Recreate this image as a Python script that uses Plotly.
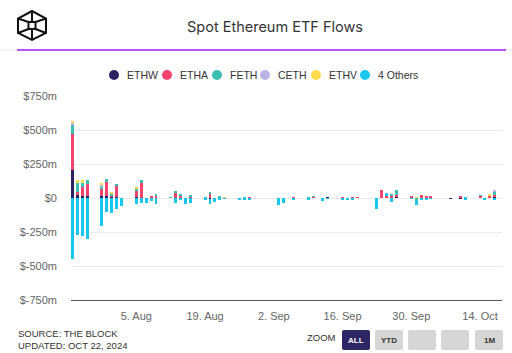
import plotly.graph_objects as go

dates = ["2024-07-23", "2024-07-24", "2024-07-25", "2024-07-26", "2024-07-29", "2024-07-30", "2024-07-31",
         "2024-08-01", "2024-08-02", "2024-08-05", "2024-08-06", "2024-08-07", "2024-08-08", "2024-08-09",
         "2024-08-12", "2024-08-13", "2024-08-14", "2024-08-15", "2024-08-16", "2024-08-19", "2024-08-20",
         "2024-08-21", "2024-08-22", "2024-08-23", "2024-08-26", "2024-08-27", "2024-08-28", "2024-08-29",
         "2024-08-30", "2024-09-03", "2024-09-04", "2024-09-05", "2024-09-06", "2024-09-09", "2024-09-10",
         "2024-09-11", "2024-09-12", "2024-09-13", "2024-09-16", "2024-09-17", "2024-09-18", "2024-09-19",
         "2024-09-20", "2024-09-23", "2024-09-24", "2024-09-25", "2024-09-26", "2024-09-27", "2024-09-30",
         "2024-10-01", "2024-10-02", "2024-10-03", "2024-10-04", "2024-10-07", "2024-10-08", "2024-10-09",
         "2024-10-10", "2024-10-11", "2024-10-14", "2024-10-15", "2024-10-16", "2024-10-17", "2024-10-18"]

ethw = [204, 20, 17, 15, 15, 15, 12, 10, 0, 5, 0, 0, 0, 0, 0, 0, 0, 0, 0, 0, -5, 0, 0, 0, 0, 0, 0, 0, 0,
        0, 0, 0, 0, 0, 0, 0, 0, 7, 0, 0, 0, 0, 0, 0, 0, 0, 0, 7, 0, 0, 0, 0, 0, 0, -5, 0, -5, 0, 0, 0, 0, 5, 0]
etha = [265, 22, 65, 86, 50, 105, 10, 78, 0, 47, 112, 0, 12, 20, 0, 44, 15, 0, 12, 0, 32, 0, 0, 0, 0, 0, 5, 0, 0,
        0, 0, 0, 5, 0, 10, 0, 0, 0, 5, 0, 7, 5, 0, 0, 59, 15, 15, 17, 15, 0, 20, 15, 15, 0, 0, 0, 17, 0, 15, 0, 15, 20, 0]
feth = [71, 71, 35, 35, 22, 18, 10, 16, 0, 17, 18, 0, 0, 10, 5, 10, 10, 0, 7, 3, 5, 0, 12, 0, 0, 4, 0, 0, 0,
        0, 0, 0, 0, 5, 3, 0, 0, 0, 0, 0, 0, 0, 0, 0, 0, 0, 17, 32, 0, -20, 0, 0, 0, 0, 0, 0, 0, 7, 3, 0, 5, 25, 0]
ceth = [13, 0, 0, 0, 10, 0, 0, 0, 0, 0, 0, 0, 0, 0, 0, 0, 0, 0, 0, 0, 0, 0, 0, 0, 0, 0, 0, 0, 0,
        0, 0, 0, 0, 0, 0, 0, 0, 0, 0, 0, 0, 0, 0, 0, 0, 0, 0, 0, 0, 0, 0, 0, 0, 0, 0, 0, 0, 0, 0, 0, 0, 7, 0]
ethv = [6, 20, 13, 0, 11, 0, 10, 0, 0, 13, 0, 0, 0, 0, 0, 0, 0, 0, 0, 0, 0, 0, 0, 5, 0, 0, 0, 0, 0,
        0, 0, 0, 0, 0, 0, 0, 0, 0, 0, 0, 0, 0, 0, 0, 0, 0, 0, 0, 0, 5, 0, 0, 0, 0, 0, 0, 0, 0, 0, 0, 5, 0, 0]
others = [-450, -274, -280, -304, -206, -105, -112, -78, -59, -42, -34, -34, -22, -42, 0, -34, -15, -42, -34, -17,
          -37, -27, -15, -7, -15, -10, -10, 0, 0, -53, -39, 0, -10, -17, 0, 0, -24, -7, -15, -17, -15, 0, 0, -80,
          0, 22, -32, 0, -7, -29, -8, -10, -5, 0, 0, 0, 0, -10, 0, -15, 0, -12, 0]

series_names = ["ETHW", "ETHA", "FETH", "CETH", "ETHV", "4 Others"]
series_values = [ethw, etha, feth, ceth, ethv, others]
series_colors = ["#2b2262", "#f2446c", "#3cbfb0", "#bcb3e6", "#ffdb4d", "#18c6f2"]

y_ticks = [750, 500, 250, 0, -250, -500, -750]
y_tick_labels = ["$750m", "$500m", "$250m", "$0", "$-250m", "$-500m", "$-750m"]
x_ticks = ["2024-08-05", "2024-08-19", "2024-09-02", "2024-09-16", "2024-09-30", "2024-10-14"]
x_tick_labels = ["5. Aug", "19. Aug", "2. Sep", "16. Sep", "30. Sep", "14. Oct"]
zoom_buttons = ["ALL", "YTD", "", "", "1M"]

W, H = 512, 353
L, R, T, B = 71, 10, 96, 53
PW, PH = W - L - R, H - T - B


def px(x):
    return (x - L) / PW


def py(y):
    return (H - B - y) / PH


fig = go.Figure()
for name, vals, col in zip(series_names, series_values, series_colors):
    fig.add_trace(go.Bar(x=dates, y=vals, name=name, marker=dict(color=col, line=dict(width=0)),
                         width=0.6 * 86400000, showlegend=False))

shapes = []
annotations = []

# header
shapes.append(dict(type="line", xref="paper", yref="paper", x0=px(0), x1=px(512), y0=py(50), y1=py(50),
                   line=dict(color="#ece6f2", width=1)))
shapes.append(dict(type="line", xref="paper", yref="paper", x0=px(17), x1=px(506), y0=py(50), y1=py(50),
                   line=dict(color="#a41ff2", width=1.5)))


def pth(points, close=True):
    s = "M " + " L ".join(f"{px(a):.5f},{py(b):.5f}" for a, b in points)
    return s + (" Z" if close else "")


logo = dict(color="#111111", width=2)
shapes.append(dict(type="path", xref="paper", yref="paper",
                   path=pth([(32, 11), (46, 18.5), (46, 33), (32, 40), (18, 33), (18, 18.5)]), line=logo))
shapes.append(dict(type="path", xref="paper", yref="paper",
                   path=pth([(28.5, 22), (35.5, 22), (35.5, 29), (28.5, 29)]), line=logo))
for a, b in [((18, 18.5), (28.5, 22)), ((46, 18.5), (35.5, 22)), ((18, 33), (28.5, 29)), ((46, 33), (35.5, 29)),
             ((32, 11), (32, 22)), ((32, 40), (32, 29))]:
    shapes.append(dict(type="path", xref="paper", yref="paper", path=pth([a, b], close=False), line=logo))

annotations.append(dict(text="Spot Ethereum ETF Flows", xref="paper", yref="paper", x=px(275), y=py(26),
                        showarrow=False, xanchor="center", yanchor="middle",
                        font=dict(family="Inter", size=14.5, color="#333333")))

# legend
leg_x = [114, 167, 217, 265, 316, 365]
for cx, name, col in zip(leg_x, series_names, series_colors):
    shapes.append(dict(type="circle", xref="paper", yref="paper", x0=px(cx - 5), x1=px(cx + 5),
                       y0=py(80), y1=py(70), fillcolor=col, line=dict(width=0)))
    annotations.append(dict(text=name, xref="paper", yref="paper", x=px(cx + 11), y=py(75), showarrow=False,
                            xanchor="left", yanchor="middle",
                            font=dict(family="Liberation Sans", size=10.5, color="#333333")))

# footer
annotations.append(dict(text="SOURCE: THE BLOCK<br>UPDATED: OCT 22, 2024", xref="paper", yref="paper",
                        x=px(16), y=py(339), showarrow=False, xanchor="left", yanchor="middle", align="left",
                        font=dict(family="Liberation Sans", size=9.5, color="#333333")))
annotations.append(dict(text="ZOOM", xref="paper", yref="paper", x=px(321), y=py(337), showarrow=False,
                        xanchor="center", yanchor="middle",
                        font=dict(family="Liberation Sans", size=9.5, color="#333333")))
btn_x = [342, 375, 408, 441, 475]
for i, (bx, lab) in enumerate(zip(btn_x, zoom_buttons)):
    x0, x1, y0, y1, r = bx, bx + 28, 330, 350, 2
    path = (f"M {px(x0 + r)},{py(y0)} L {px(x1 - r)},{py(y0)} Q {px(x1)},{py(y0)} {px(x1)},{py(y0 + r)} "
            f"L {px(x1)},{py(y1 - r)} Q {px(x1)},{py(y1)} {px(x1 - r)},{py(y1)} L {px(x0 + r)},{py(y1)} "
            f"Q {px(x0)},{py(y1)} {px(x0)},{py(y1 - r)} L {px(x0)},{py(y0 + r)} Q {px(x0)},{py(y0)} {px(x0 + r)},{py(y0)} Z")
    shapes.append(dict(type="path", xref="paper", yref="paper", path=path,
                       fillcolor="#2e2564" if i == 0 else "#d6d6d6", line=dict(width=0)))
    if lab:
        annotations.append(dict(text=f"<b>{lab}</b>", xref="paper", yref="paper", x=px(bx + 14), y=py(340),
                                showarrow=False, xanchor="center", yanchor="middle",
                                font=dict(family="Liberation Sans", size=8,
                                          color="#ffffff" if i == 0 else "#333333")))

fig.update_layout(
    width=W, height=H, margin=dict(l=L, r=R, t=T, b=B, autoexpand=False),
    paper_bgcolor="#ffffff", plot_bgcolor="#ffffff",
    barmode="relative", bargap=0, showlegend=False,
    shapes=shapes, annotations=annotations,
    xaxis=dict(type="date", range=["2024-07-22 16:40", "2024-10-18 11:20"], tickvals=x_ticks,
               ticktext=x_tick_labels, showgrid=False, showline=True, linecolor="#555555", linewidth=1,
               ticks="", ticklabelstandoff=6, zeroline=False,
               tickfont=dict(family="Liberation Sans", size=11, color="#666666")),
    yaxis=dict(range=[-750, 750], tickvals=y_ticks, ticktext=y_tick_labels, showgrid=True,
               gridcolor="#ebebeb", gridwidth=1, zeroline=True, zerolinecolor="#ebebeb", zerolinewidth=1,
               ticks="", ticklabelstandoff=13, showline=False,
               tickfont=dict(family="Liberation Sans", size=11, color="#666666")),
)

fig.write_html("out.html")
